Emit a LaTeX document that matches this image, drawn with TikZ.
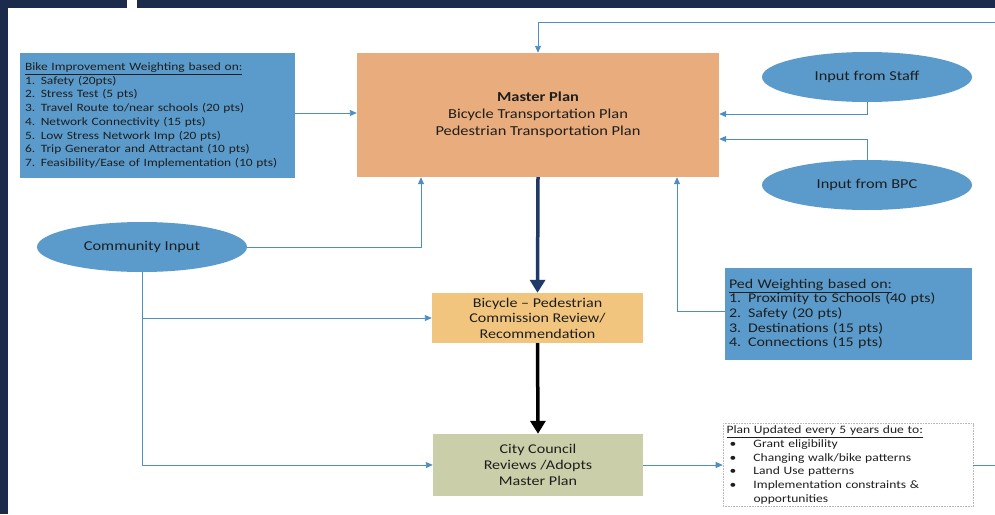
\documentclass[tikz,border=0pt]{standalone}
\usepackage{fontspec}
\setmainfont{Carlito}[FakeStretch=1.2]
\usetikzlibrary{shapes.geometric,arrows.meta}

\definecolor{navyband}{HTML}{1C2B4C}
\definecolor{steelfill}{HTML}{5A9BCB}
\definecolor{tanfill}{HTML}{E9AC7C}
\definecolor{goldfill}{HTML}{F2C57F}
\definecolor{sagefill}{HTML}{CACFA9}
\definecolor{linkblue}{HTML}{4E8FC2}
\definecolor{darknavy}{HTML}{1F3A68}
\definecolor{inktext}{HTML}{1E1E1E}

\tikzset{
  panel/.style={rectangle, inner sep=0pt, text=inktext},
  bubble/.style={ellipse, fill=steelfill, inner sep=0pt,
    minimum width=210pt, minimum height=50pt, text=inktext,
    font=\fontsize{13.6}{16}\selectfont},
  conn/.style={draw=linkblue, line width=0.9pt,
    -{Triangle[length=7pt,width=6pt]}},
  bigarrow/.style={line width=3.5pt,
    -{Triangle[length=13pt,width=15pt]}},
}

\begin{document}
\begin{tikzpicture}[x=1pt,y=-1pt]
\useasboundingbox (0,0) rectangle (995,514);
\fill[white] (0,0) rectangle (995,514);

% slide frame: dark band across the top and down the left side
\fill[navyband] (0,0) rectangle (127,8);
\fill[navyband] (137,0) rectangle (995,8);
\fill[navyband] (0,0) rectangle (8,514);

% bike weighting criteria
\node[panel, fill=steelfill, minimum width=275pt, minimum height=125pt,
      text width=265pt, align=left, inner xsep=5pt,
      font=\fontsize{11.2}{13.7}\selectfont] (bike) at (157.5,115.5)
  {\underline{Bike Improvement Weighting based on:}\\
   1. Safety (20pts)\\
   2. Stress Test (5 pts)\\
   3. Travel Route to/near schools (20 pts)\\
   4. Network Connectivity (15 pts)\\
   5. Low Stress Network Imp (20 pts)\\
   6. Trip Generator and Attractant (10 pts)\\
   7. Feasibility/Ease of Implementation (10 pts)};

% master plan
\node[panel, fill=tanfill, minimum width=362pt, minimum height=124pt,
      align=center, font=\fontsize{13.7}{16.8}\selectfont] (master) at (538,115)
  {\textbf{Master Plan}\\Bicycle Transportation Plan\\Pedestrian Transportation Plan};

% inputs
\node[bubble] (staff) at (867,77) {Input from Staff};
\node[bubble] (bpc) at (867,185) {Input from BPC};
\node[bubble] (community) at (142,247) {Community Input};

% review chain
\node[panel, fill=goldfill, minimum width=211pt, minimum height=50pt,
      align=center, font=\fontsize{13.4}{15.5}\selectfont] (commission) at (537.5,318)
  {Bicycle -- Pedestrian\\Commission Review/\\Recommendation};
\node[panel, fill=sagefill, minimum width=210pt, minimum height=62pt,
      align=center, font=\fontsize{13.4}{16}\selectfont] (council) at (538,465)
  {City Council\\Reviews /Adopts\\Master Plan};

% pedestrian weighting criteria
\node[panel, fill=steelfill, minimum width=247pt, minimum height=92pt,
      text width=239pt, align=left, inner xsep=4pt,
      font=\fontsize{13.3}{14.6}\selectfont] (ped) at (848.5,314)
  {\underline{Ped Weighting based on:}\\
   \makebox[19pt][l]{1.}Proximity to Schools (40 pts)\\
   \makebox[19pt][l]{2.}Safety (20 pts)\\
   \makebox[19pt][l]{3.}Destinations (15 pts)\\
   \makebox[19pt][l]{4.}Connections (15 pts)};

% update cycle note
\node[panel, draw=gray!55, densely dotted, line width=0.6pt,
      minimum width=250pt, minimum height=83pt,
      text width=243pt, align=left, inner xsep=3.5pt,
      font=\fontsize{11.3}{13.7}\selectfont] (plan) at (848,465)
  {\underline{Plan Updated every 5 years due to:}\\
   \hspace*{3pt}\makebox[24pt][l]{\textbullet}Grant eligibility\\
   \hspace*{3pt}\makebox[24pt][l]{\textbullet}Changing walk/bike patterns\\
   \hspace*{3pt}\makebox[24pt][l]{\textbullet}Land Use patterns\\
   \hspace*{3pt}\makebox[24pt][l]{\textbullet}Implementation constraints \&\\
   \hspace*{27pt}opportunities};

% inputs feeding the master plan
\draw[conn] (bike.east |- 0,113) -- (master.west |- 0,113);
\draw[conn] (staff.south) |- (master.east |- 0,114);
\draw[conn] (bpc.north) |- (master.east |- 0,139);
\draw[conn] (community.east) -| (master.south -| 421,0);
\draw[conn] (ped.west |- 0,311) -| (master.south -| 677,0);
\draw[conn] (community.south) |- (commission.west);
\draw[conn] (community.south) |- (council.west);

% approval sequence
\draw[bigarrow, darknavy] (master.south) -- (commission.north);
\draw[bigarrow, black] (commission.south) -- (council.north);
\draw[conn] (council.east) -- (plan.west |- council.east);

% periodic update loops back to the master plan
\draw[conn] (plan.east) -- ++(30,0) |- (master.north |- 0,22) -- (master.north);
\end{tikzpicture}
\end{document}
